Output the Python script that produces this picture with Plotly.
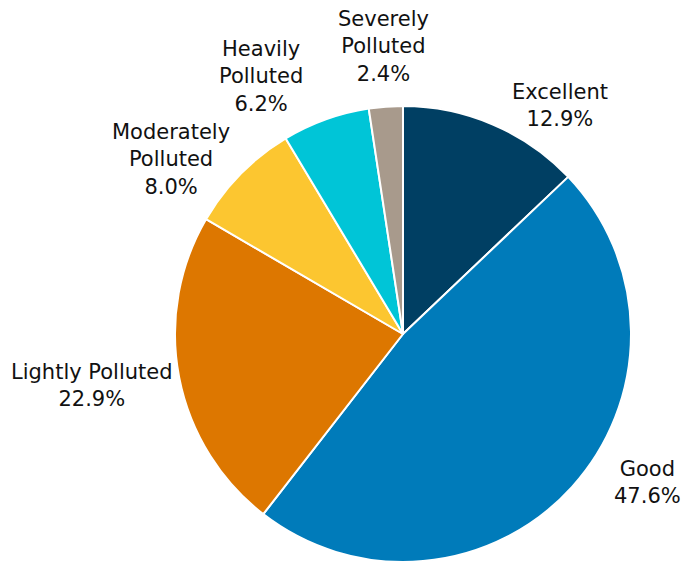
import math
import plotly.graph_objects as go

categories = ["Excellent", "Good", "Lightly Polluted", "Moderately<br>Polluted",
              "Heavily<br>Polluted", "Severely<br>Polluted"]
values = [12.9, 47.6, 22.9, 8.0, 6.2, 2.4]
colors = ["#003f63", "#007bba", "#dd7700", "#fcc630", "#00c5d7", "#a89a8c"]

# layout constants
W, H = 683, 562
ML, MR, MT, MB = 175, 52, 106, 0
PLOT = 456  # square plot area, pie radius = PLOT/2
# label placement: angular adjustment (deg) from slice mid-angle and radius (px)
label_angle_adjust = [11.2, -10.8, 1.5, -7.7, -9.0, 0.5]
label_radius = [277, 286, 315, 290, 294, 288]

fig = go.Figure(go.Pie(
    labels=categories,
    values=values,
    sort=False,
    direction="clockwise",
    rotation=0,
    marker=dict(colors=colors, line=dict(color="white", width=2)),
    textinfo="none",
    showlegend=False,
    hoverinfo="label+percent",
    domain=dict(x=[0, 1], y=[0, 1]),
))

total = sum(values)
cx = ML + PLOT / 2
cy = MT + PLOT / 2
cum = 0.0
annotations = []
for lab, v, da, rr in zip(categories, values, label_angle_adjust, label_radius):
    mid = (cum + v / 2) / total * 360.0
    cum += v
    a = math.radians(mid + da)
    px = cx + rr * math.sin(a)
    py = cy - rr * math.cos(a)
    annotations.append(dict(
        x=(px - ML) / PLOT, y=(H - MB - py) / PLOT,
        xref="paper", yref="paper",
        text=f"{lab}<br>{v / total * 100:.1f}%",
        showarrow=False, xanchor="center", yanchor="middle",
        font=dict(family="Verdana, DejaVu Sans, sans-serif", size=21, color="#111111"),
    ))

fig.update_layout(
    width=W, height=H,
    margin=dict(l=ML, r=MR, t=MT, b=MB),
    paper_bgcolor="white",
    plot_bgcolor="white",
    annotations=annotations,
)

fig.write_html("out.html", post_script="document.body.style.margin='0';",
               config={"displayModeBar": False})
